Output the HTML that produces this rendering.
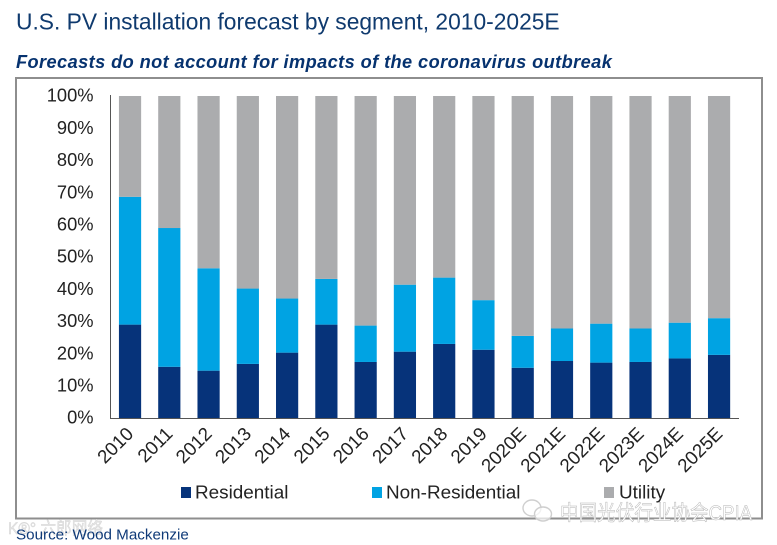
<!DOCTYPE html>
<html lang="en">
<head>
<meta charset="utf-8">
<title>U.S. PV installation forecast by segment</title>
<style>
html,body{margin:0;padding:0;background:#fff;}
body{width:777px;height:545px;overflow:hidden;}
svg{display:block;font-family:"Liberation Sans","Noto Sans CJK SC",sans-serif;}
</style>
</head>
<body>
<svg id="chart" width="777" height="545" viewBox="0 0 777 545" xmlns="http://www.w3.org/2000/svg">
  <text x="16" y="29.5" font-size="22.8" fill="#0f3a6e">U.S. PV installation forecast by segment, 2010-2025E</text>
  <text x="16" y="68" font-size="18.2" font-weight="bold" font-style="italic" fill="#06326f" letter-spacing="0.41">Forecasts do not account for impacts of the coronavirus outbreak</text>
  <rect x="16" y="78" width="746" height="440.5" fill="none" stroke="#8e8e8e" stroke-width="2"/>
  <g id="bars"></g>
  <g id="yticks"></g>
  <g id="xticks"></g>
  <line x1="110.5" y1="95" x2="110.5" y2="418.5" stroke="#555" stroke-width="1"/>
  <line x1="110" y1="418.5" x2="739" y2="418.5" stroke="#555" stroke-width="1"/>

  <g font-size="18.9" fill="#222">
    <rect x="181" y="487" width="10" height="11" fill="#06337a"/>
    <text x="195" y="498.5">Residential</text>
    <rect x="372" y="487" width="10" height="11" fill="#00a3e3"/>
    <text x="386" y="498.5">Non-Residential</text>
    <rect x="604" y="487" width="10" height="11" fill="#abacae"/>
    <text x="619" y="498.5">Utility</text>
  </g>

  <g fill="none" stroke="#cfcfcf" stroke-width="1.4">
    <ellipse cx="532" cy="508" rx="9" ry="8" fill="#fff" fill-opacity="0.6"/>
    <ellipse cx="543" cy="514" rx="8.5" ry="7" fill="#fff" fill-opacity="0.7"/>
  </g>
  <text x="560" y="520" font-size="21" fill="#fff" stroke="#b5b5b5" stroke-width="0.5" textLength="192" lengthAdjust="spacingAndGlyphs">中国光伏行业协会CPIA</text>
  <text x="8" y="534" font-size="17" fill="#e6e6e6" stroke="#d2d2d2" stroke-width="0.4" textLength="95" lengthAdjust="spacingAndGlyphs">K®° 六郎网络</text>
  <text x="16" y="539.5" font-size="15.2" fill="#0f3a78">Source: Wood Mackenzie</text>
</svg>
<script>
const categories = ["2010","2011","2012","2013","2014","2015","2016","2017","2018","2019","2020E","2021E","2022E","2023E","2024E","2025E"];
const residential = [29.0,15.9,14.7,16.8,20.3,29.0,17.4,20.6,23.0,21.2,15.6,17.7,17.2,17.4,18.5,19.6];
const nonResidential = [39.7,43.1,31.8,23.4,16.8,14.2,11.3,20.8,20.6,15.4,9.9,10.1,12.1,10.4,11.1,11.4];
const utility = [31.3,41.0,53.5,59.8,62.9,56.8,71.3,58.6,56.4,63.4,74.5,72.2,70.7,72.2,70.4,69.0];
const yTickLabels = ["0%","10%","20%","30%","40%","50%","60%","70%","80%","90%","100%"];
const yTickValues = [0,10,20,30,40,50,60,70,80,90,100];

const NS = "http://www.w3.org/2000/svg";
const plotLeft = 110.4, plotRight = 738.7, plotBottom = 418, plotTop = 96;
const band = (plotRight - plotLeft) / categories.length;
const barWidth = 22.2;
function xCenter(i){ return plotLeft + band * (i + 0.5); }
function yScale(v){ return plotBottom - (v / 100) * (plotBottom - plotTop); }

const barsGroup = document.getElementById("bars");
const segmentColors = ["#06337a","#00a3e3","#abacae"];
const segmentNames = ["residential","non-residential","utility"];
const seriesList = [residential, nonResidential, utility];

categories.forEach(function(cat, i){
  let cumulative = 0;
  seriesList.forEach(function(series, s){
    const v = series[i];
    const y1 = yScale(cumulative);
    const y2 = yScale(cumulative + v);
    const r = document.createElementNS(NS, "rect");
    r.setAttribute("x", xCenter(i) - barWidth / 2);
    r.setAttribute("y", y2);
    r.setAttribute("width", barWidth);
    r.setAttribute("height", y1 - y2);
    r.setAttribute("fill", segmentColors[s]);
    
    
    barsGroup.appendChild(r);
    cumulative += v;
  });
});

const yGroup = document.getElementById("yticks");
yTickLabels.forEach(function(label, i){
  const t = document.createElementNS(NS, "text");
  t.setAttribute("x", 93.5);
  t.setAttribute("y", yScale(yTickValues[i]) + 5.7);
  t.setAttribute("text-anchor", "end");
  t.setAttribute("font-size", "18.3");
  t.setAttribute("fill", "#222");
  t.textContent = label;
  
  
  yGroup.appendChild(t);
});

const xGroup = document.getElementById("xticks");
categories.forEach(function(cat, i){
  const t = document.createElementNS(NS, "text");
  const tx = xCenter(i) + 4.5;
  const ty = 435;
  t.setAttribute("transform", "translate(" + tx + "," + ty + ") rotate(-45)");
  t.setAttribute("text-anchor", "end");
  t.setAttribute("font-size", "18.8");
  t.setAttribute("fill", "#222");
  t.textContent = cat;
  
  
  xGroup.appendChild(t);
});
</script>
</body>
</html>
